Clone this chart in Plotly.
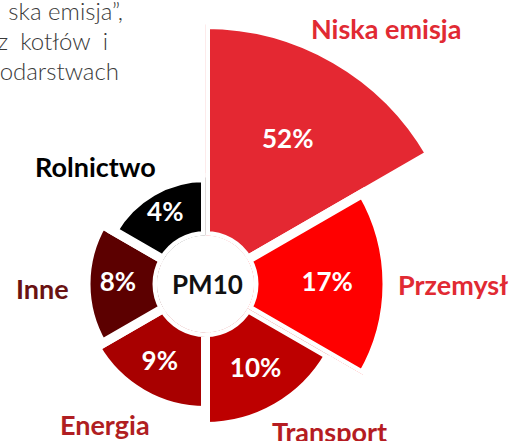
import plotly.graph_objects as go

# ---- data ----
categories = ["Niska emisja", "Przemysł", "Transport", "Energia", "Inne", "Rolnictwo"]
shares = [52, 17, 10, 9, 8, 4]                      # % labels
radial_length = [211, 133, 94, 78, 71, 58]          # bar length on the radial scale
bar_colors = ["#e42832", "#ff0000", "#bd0000", "#a80000", "#5c0000", "#000000"]
label_colors = ["#e12a33", "#e12a33", "#b51c22", "#b01e22", "#6a1212", "#000000"]
# justified paragraph cut off at the left edge (wider spaces on line 2)
intro_lines = ["ska emisja”,", "z\u2002kotłów\u2002i", "odarstwach"]

W, H = 509, 441
CX, CY = 205.5, 284.0
HOLE_PX = 48.5
RA, RB = 262.0, 150.0
FONT = "Lato"


def dom(R, bbox):
    x0, y0, x1, y1 = bbox
    return dict(x=[(CX + R * x0) / W, (CX + R * x1) / W],
                y=[1 - (CY - R * y0) / H, 1 - (CY - R * y1) / H])


def polar_layout(R, sector, bbox):
    return dict(
        domain=dom(R, bbox), sector=sector, hole=HOLE_PX / R,
        bgcolor="rgba(0,0,0,0)",
        radialaxis=dict(range=[0, R - HOLE_PX], visible=False),
        angularaxis=dict(visible=False, rotation=0, direction="counterclockwise"),
    )


fig = go.Figure()

groups = [("polar", slice(0, 2), 60), ("polar2", slice(2, 6), -60)]
for sub, sl, t0 in groups:
    fig.add_trace(go.Barpolar(
        r=radial_length[sl], theta0=t0, dtheta=-60, width=60,
        marker=dict(color=bar_colors[sl], line=dict(color="white", width=9)),
        subplot=sub, hoverinfo="skip", showlegend=False,
    ))
    fig.add_trace(go.Scatterpolar(
        r=[0.55 * v for v in radial_length[sl]], theta0=t0, dtheta=-60,
        mode="text", text=[f"{s}%" for s in shares[sl]],
        textfont=dict(family=FONT, size=26, color="white", weight="bold"),
        cliponaxis=False, subplot=sub, hoverinfo="skip", showlegend=False,
    ))

# intro paragraph, right-aligned via SVG text-anchor
fig.add_trace(go.Scatter(
    x=[123, 108, 119], y=[13.5, 44, 74], mode="text", text=intro_lines,
    textposition="middle left", cliponaxis=False,
    textfont=dict(family=FONT, size=24, color="#3a3a3a", weight=300),
    hoverinfo="skip", showlegend=False,
))

# category label placements (pixel positions)
label_pos = [(386, 28, "center"), (396, 284, "left"), (270, 431, "left"),
             (105, 424, "center"), (42.5, 288, "center"), (95.5, 166, "center")]
ann = []
for name, col, (px, py, xa) in zip(categories, label_colors, label_pos):
    ann.append(dict(x=px / W, y=1 - py / H, xref="paper", yref="paper",
                    text=name, showarrow=False, xanchor=xa, yanchor="middle",
                    font=dict(family=FONT, size=27, color=col, weight="bold")))
ann.append(dict(x=207.5 / W, y=1 - 284 / H, xref="paper", yref="paper",
                text="PM10", showarrow=False, xanchor="center", yanchor="middle",
                font=dict(family=FONT, size=26, color="#111111", weight="bold")))

fig.update_layout(
    width=W, height=H, margin=dict(l=0, r=0, t=0, b=0),
    paper_bgcolor="white", plot_bgcolor="rgba(0,0,0,0)",
    xaxis=dict(range=[0, W], visible=False, domain=[0, 1], fixedrange=True),
    yaxis=dict(range=[H, 0], visible=False, domain=[0, 1], fixedrange=True),
    polar=polar_layout(RA, [-30, 90], (0, -0.5, 1, 1)),
    polar2=polar_layout(RB, [90, 330], (-1, -1, 0.8660254, 1)),
    annotations=ann, showlegend=False,
)

fig.write_html("out.html", config={"displayModeBar": False},
               post_script="document.body.style.margin='0';document.body.style.overflow='hidden';")
